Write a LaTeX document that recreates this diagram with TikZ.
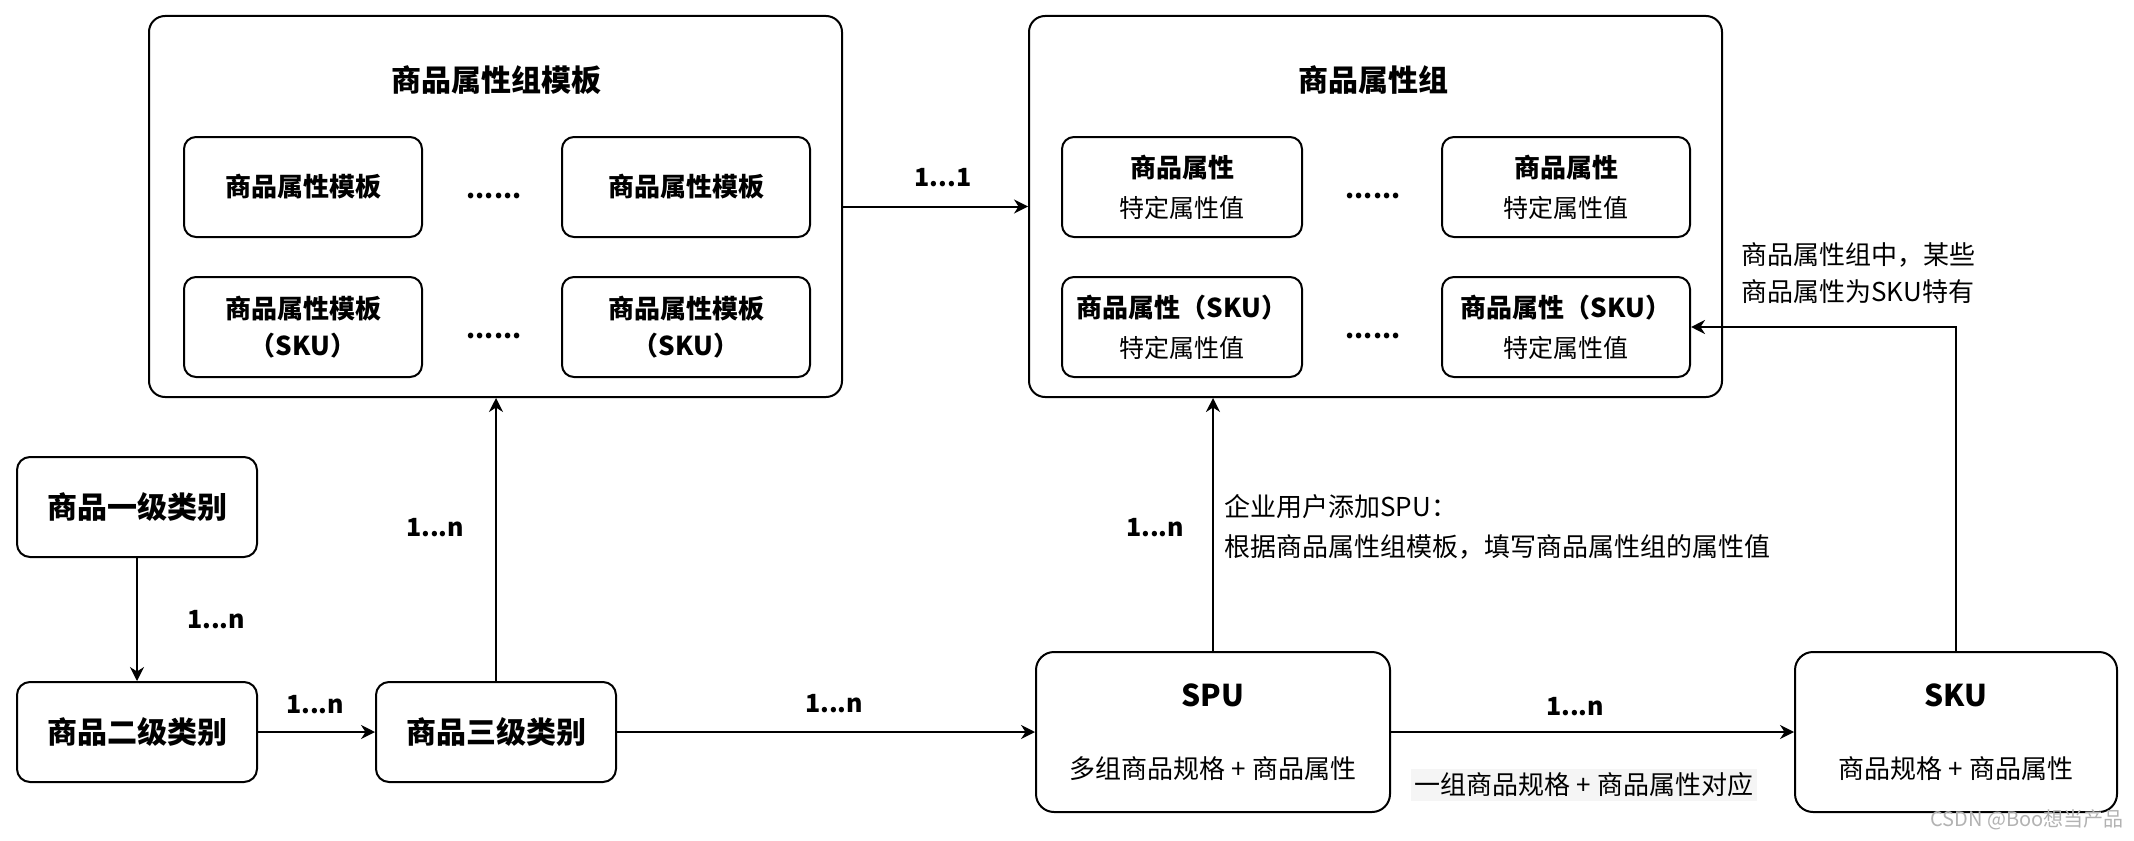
\documentclass[tikz,border=0pt]{standalone}
\usepackage{fontspec}
\setmainfont{Noto Sans CJK SC}
\usetikzlibrary{arrows.meta}
\begin{document}
\begin{tikzpicture}[x=0.5pt,y=-0.5pt,
  grp/.style={draw, line width=1pt, rounded corners=8pt, fill=white, inner sep=0pt},
  inbox/.style={draw, line width=1pt, rounded corners=6pt, fill=white, align=center, inner sep=0pt,
     minimum height=50pt},
  catbox/.style={draw, line width=1pt, rounded corners=6.5pt, fill=white, align=center, inner sep=0pt,
     minimum width=120pt, minimum height=50pt, font=\bfseries\fontsize{15}{18}\selectfont},
  bigbox/.style={draw, line width=1pt, rounded corners=9pt, fill=white, align=center, inner sep=0pt,
     minimum height=80pt, font=\fontsize{13}{34}\selectfont},
  ttl/.style={font=\bfseries\fontsize{15}{18}\selectfont, inner sep=0pt},
  tplfont/.style={font=\bfseries\fontsize{13}{18.5}\selectfont},
  attrfont/.style={font=\fontsize{12.5}{20}\selectfont},
  dots/.style={font=\bfseries\fontsize{13}{15}\selectfont, inner sep=0pt},
  lbl/.style={font=\bfseries\fontsize{12.5}{15}\selectfont, inner sep=0pt},
  note/.style={font=\fontsize{13}{20}\selectfont, inner sep=0pt, align=left},
  arr/.style={-{Stealth[length=7pt,width=7pt]}, line width=1pt}]
\useasboundingbox (0,0) rectangle (2134,840);

% template group
\node[grp, minimum width=346.5pt, minimum height=190.5pt] (tplgrp) at (495.5,206.5) {};
\node[ttl] (tpltitle) at (496,80) {商品属性组模板};
\node[inbox, tplfont, minimum width=119pt] (tplA) at (303,187) {商品属性模板};
\node[inbox, tplfont, minimum width=124pt] (tplB) at (686,187) {商品属性模板};
\node[inbox, tplfont, minimum width=119pt] (tplC) at (303,327) {商品属性模板\\（SKU）};
\node[inbox, tplfont, minimum width=124pt] (tplD) at (686,327) {商品属性模板\\（SKU）};
\node[dots] (tpldots1) at (494,196) {......};
\node[dots] (tpldots2) at (494,336) {......};

% attribute group
\node[grp, minimum width=346.5pt, minimum height=190.5pt] (attrgrp) at (1375.5,206.5) {};
\node[ttl] (attrtitle) at (1373,80) {商品属性组};
\node[inbox, attrfont, minimum width=120pt] (attrA) at (1182,187) {{\bfseries\fontsize{13}{20}\selectfont 商品属性}\\特定属性值};
\node[inbox, attrfont, minimum width=124pt] (attrB) at (1566,187) {{\bfseries\fontsize{13}{20}\selectfont 商品属性}\\特定属性值};
\node[inbox, attrfont, minimum width=120pt] (attrC) at (1182,327) {{\bfseries\fontsize{13}{20}\selectfont 商品属性（SKU）}\\特定属性值};
\node[inbox, attrfont, minimum width=124pt] (attrD) at (1566,327) {{\bfseries\fontsize{13}{20}\selectfont 商品属性（SKU）}\\特定属性值};
\node[dots] (attrdots1) at (1373,196) {......};
\node[dots] (attrdots2) at (1373,336) {......};

% categories
\node[catbox] (cat1) at (137,507) {商品一级类别};
\node[catbox] (cat2) at (137,732) {商品二级类别};
\node[catbox] (cat3) at (496,732) {商品三级类别};

% SPU / SKU
\node[bigbox, minimum width=177pt] (spu) at (1213,732) {{\bfseries\fontsize{15}{34}\selectfont SPU}\\[2pt]多组商品规格 + 商品属性};
\node[bigbox, minimum width=161pt] (sku) at (1956,732) {{\bfseries\fontsize{15}{34}\selectfont SKU}\\[2pt]商品规格 + 商品属性};

% connectors
\draw[arr] (cat1) -- (cat2);
\node[lbl] (l1) at (216,620) {1...n};
\draw[arr] (cat2) -- (cat3);
\node[lbl] (l2) at (315,705) {1...n};
\draw[arr] (cat3.north) -- (cat3.north |- tplgrp.south);
\node[lbl] (l3) at (435,528) {1...n};
\draw[arr] (cat3) -- (spu);
\node[lbl] (l4) at (834,704) {1...n};
\draw[arr] (tplgrp) -- (attrgrp);
\node[lbl] (l5) at (943,178) {1...1};
\draw[arr] (spu.north) -- (spu.north |- attrgrp.south);
\node[lbl] (l6) at (1155,528) {1...n};
\node[note, anchor=west] (n1) at (1224,527) {企业用户添加SPU：\\根据商品属性组模板，填写商品属性组的属性值};
\draw[arr] (spu) -- (sku);
\node[lbl] (l7) at (1575,707) {1...n};
\node[font=\fontsize{13}{15}\selectfont, fill=gray!8, inner sep=2pt] (n2) at (1584,785) {一组商品规格 + 商品属性对应};
\draw[arr] (sku.north) |- (attrD.east);
\node[font=\fontsize{13}{18.5}\selectfont, inner sep=0pt, align=left, anchor=west] (n3) at (1741,273.5) {商品属性组中，某些\\商品属性为SKU特有};

% watermark
\node[font=\fontsize{10}{12}\selectfont, text=gray!60, inner sep=0pt] (wm) at (2027,820) {CSDN @Boo想当产品};
\end{tikzpicture}
\end{document}
